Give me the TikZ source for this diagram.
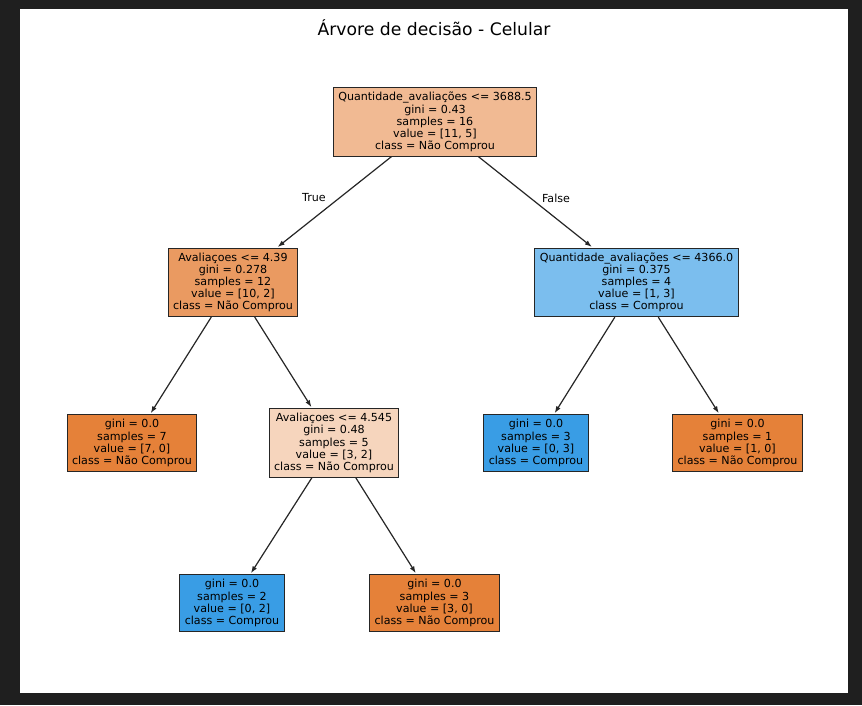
\documentclass[tikz,border=0pt]{standalone}
\usepackage{fontspec}
\setmainfont{DejaVu Sans}
\usepackage{xcolor}
\usetikzlibrary{arrows.meta}
\definecolor{frame}{HTML}{1F1F1F}
\definecolor{naoA}{HTML}{F1BA93}
\definecolor{naoB}{HTML}{EA9A61}
\definecolor{naoC}{HTML}{F6D5BD}
\definecolor{naoP}{HTML}{E58139}
\definecolor{simA}{HTML}{7BBEEE}
\definecolor{simP}{HTML}{399DE5}

\begin{document}
\begin{tikzpicture}[x=1pt, y=-1pt, >={Latex[length=7pt,width=5pt]},
    box/.style={draw=black!85, line width=1pt, align=center, inner xsep=5pt, inner ysep=4.5pt,
        font=\fontsize{11.1}{12.1}\selectfont},
    lbl/.style={font=\fontsize{11.1}{13}\selectfont}]
    \fill[frame] (0,0) rectangle (862,705);
    \fill[white] (20,9) rectangle (848,693);
    \node (title) at (434,28) {\fontsize{17.2}{20}\selectfont Árvore de decisão - Celular};

    \node[box, fill=naoA] (root) at (435,122) {Quantidade\_avaliações <= 3688.5\\gini = 0.43\\samples = 16\\value = [11, 5]\\class = Não Comprou};
    \node[box, fill=naoB] (a) at (233,282.5) {Avaliaçoes <= 4.39\\gini = 0.278\\samples = 12\\value = [10, 2]\\class = Não Comprou};
    \node[box, fill=simA] (b) at (636.5,282.5) {Quantidade\_avaliações <= 4366.0\\gini = 0.375\\samples = 4\\value = [1, 3]\\class = Comprou};
    \node[box, fill=naoP] (aa) at (132,443) {gini = 0.0\\samples = 7\\value = [7, 0]\\class = Não Comprou};
    \node[box, fill=naoC] (ab) at (334,443) {Avaliaçoes <= 4.545\\gini = 0.48\\samples = 5\\value = [3, 2]\\class = Não Comprou};
    \node[box, fill=simP] (ba) at (536,443) {gini = 0.0\\samples = 3\\value = [0, 3]\\class = Comprou};
    \node[box, fill=naoP] (bb) at (737.5,443) {gini = 0.0\\samples = 1\\value = [1, 0]\\class = Não Comprou};
    \node[box, fill=simP] (aba) at (232,603) {gini = 0.0\\samples = 2\\value = [0, 2]\\class = Comprou};
    \node[box, fill=naoP] (abb) at (434.5,603) {gini = 0.0\\samples = 3\\value = [3, 0]\\class = Não Comprou};

    \foreach \p/\c in {root/a, root/b, a/aa, a/ab, b/ba, b/bb, ab/aba, ab/abb} {
        \draw[->, line width=1.2pt, black!85, shorten >=1.5pt] (\p) -- (\c);
    }

    \node[lbl] (true) at (314,198) {True};
    \node[lbl] (false) at (556,198) {False};
\end{tikzpicture}
\end{document}
